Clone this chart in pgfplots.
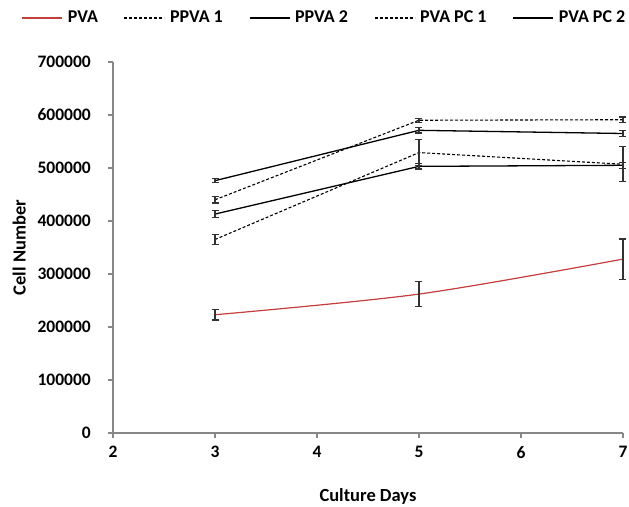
\documentclass[border=0pt]{standalone}
\usepackage{fontspec}
\setmainfont{Carlito}
\usepackage{pgfplots}
\pgfplotsset{compat=1.18}

\definecolor{pvared}{RGB}{196,62,60}
\definecolor{axisgray}{RGB}{135,135,135}
\definecolor{barcol}{RGB}{50,50,50}

\begin{document}
\fontsize{18}{21}\selectfont\bfseries
\begin{tikzpicture}
\begin{axis}[
    width=510pt, height=371pt, scale only axis,
    xmin=2, xmax=7, ymin=0, ymax=700000,
    xtick={2,3,4,5,6,7},
    ytick={0,100000,200000,300000,400000,500000,600000,700000},
    yticklabels={0,100000,200000,300000,400000,500000,600000,700000},
    axis lines=left,
    axis line style={axisgray, line width=1.8pt, -},
    tick style={axisgray, line width=1.2pt},
    tick align=outside, major tick length=5pt,
    scaled y ticks=false,
    /pgf/number format/assume math mode=true,
    ticklabel style={font=\fontsize{17.5}{21}\selectfont\bfseries},
    yticklabel style={anchor=east, xshift=-11pt},
    xticklabel style={yshift=-2pt},
    xlabel={Culture Days}, ylabel={Cell Number},
    label style={font=\fontsize{18.5}{21}\selectfont\bfseries},
    xlabel style={at={(axis description cs:0.5,-0.172)}, anchor=center},
    ylabel style={at={(axis description cs:-0.184,0.5)}, anchor=center},
    clip=false,
    legend columns=5,
    legend image code/.code={\draw[#1] (0pt,0pt) -- (40pt,0pt);},
    legend style={draw=none, fill=none,
        at={(axis description cs:0.4127,1.1186)}, anchor=center,
        font=\fontsize{18}{21}\selectfont\bfseries,
        nodes={inner xsep=0pt, inner ysep=2pt},
        column sep=5pt,
        /tikz/every even column/.append style={column sep=26pt}},
    error bars/y dir=both, error bars/y explicit,
    error bars/error bar style={barcol, line width=1.2pt, solid},
    error bars/error mark options={barcol, rotate=90, line width=1.2pt, mark size=3.5pt, solid},
]
% PVA
\addplot[pvared, line width=1.2pt, smooth, mark=none]
    coordinates {(3,223000) +- (0,10000) (5,262000) +- (0,23000) (7,328000) +- (0,38000)};
\addlegendentry{PVA}
% PPVA 1
\addplot[black, line width=1.1pt, dash pattern=on 3pt off 2pt, mark=none]
    coordinates {(3,440000) +- (0,6000) (5,590000) +- (0,4000) (7,591000) +- (0,5000)};
\addlegendentry{PPVA 1}
% PPVA 2
\addplot[black, line width=1.3pt, mark=none]
    coordinates {(3,413000) +- (0,6000) (5,503000) +- (0,5000) (7,505000) +- (0,6000)};
\addlegendentry{PPVA 2}
% PVA PC 1
\addplot[black, line width=1.1pt, dash pattern=on 3pt off 2pt, mark=none]
    coordinates {(3,365000) +- (0,10000) (5,529000) +- (0,24000) (7,507000) +- (0,33000)};
\addlegendentry{PVA PC 1}
% PVA PC 2
\addplot[black, line width=1.3pt, mark=none]
    coordinates {(3,476000) +- (0,4000) (5,571000) +- (0,5000) (7,565000) +- (0,6000)};
\addlegendentry{PVA PC 2}
\coordinate (bl) at (rel axis cs:-0.2216,-0.1995);
\coordinate (tr) at (rel axis cs:1.0118,1.167);
\end{axis}
\pgfresetboundingbox
\path[use as bounding box] (bl) rectangle (tr);
\end{tikzpicture}
\end{document}
